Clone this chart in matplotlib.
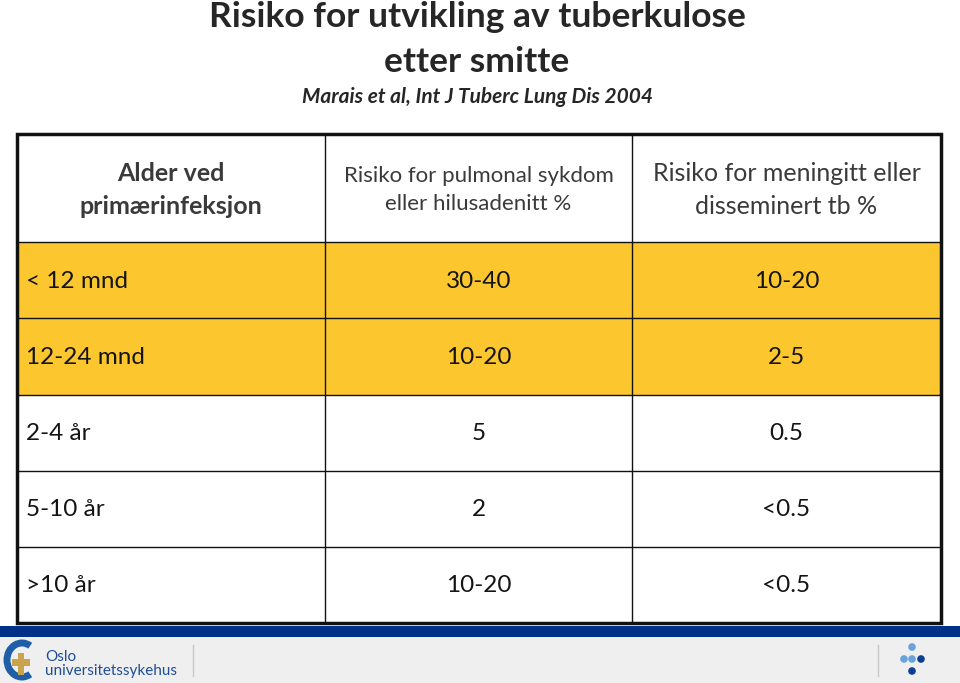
import matplotlib
matplotlib.use("Agg")
import matplotlib.pyplot as plt
from matplotlib.patches import Rectangle, Circle, Arc

FONT = ["Lato", "DejaVu Sans"]

title_lines = ["Risiko for utvikling av tuberkulose", "etter smitte"]
subtitle = "Marais et al, Int J Tuberc Lung Dis 2004"
headers = ["Alder ved\nprimærinfeksjon",
           "Risiko for pulmonal sykdom\neller hilusadenitt %",
           "Risiko for meningitt eller\ndisseminert tb %"]
ages = ["< 12 mnd", "12-24 mnd", "2-4 år", "5-10 år", ">10 år"]
pulmonal = ["30-40", "10-20", "5", "2", "10-20"]
meningitt = ["10-20", "2-5", "0.5", "<0.5", "<0.5"]
highlight = [True, True, False, False, False]

W, H = 960, 683
fig = plt.figure(figsize=(9.6, 6.83), dpi=100)
ax = fig.add_axes([0, 0, 1, 1])
ax.set_xlim(0, W)
ax.set_ylim(H, 0)
ax.axis("off")

# Title
ax.text(477, 17, title_lines[0], ha="center", va="center", fontsize=25.5,
        fontweight="bold", color="#262626", family=FONT)
ax.text(477, 62, title_lines[1], ha="center", va="center", fontsize=25.5,
        fontweight="bold", color="#262626", family=FONT)
ax.text(478, 97, subtitle, ha="center", va="center", fontsize=15,
        fontweight="bold", style="italic", color="#262626", family=FONT)

# Table geometry
col_x = [17, 325, 632, 941]
row_y = [134, 242, 318, 395, 471, 547, 623]
yellow = "#FCC62F"
body = "#141414"
head = "#3a3a3a"

for i in range(len(ages)):
    y0, y1 = row_y[i + 1], row_y[i + 2]
    if highlight[i]:
        ax.add_patch(Rectangle((col_x[0], y0), col_x[-1] - col_x[0], y1 - y0,
                               facecolor=yellow, edgecolor="none", zorder=1))
    yc = (y0 + y1) / 2 + 1
    ax.text(col_x[0] + 9, yc, ages[i], ha="left", va="center", fontsize=17.5,
            color=body, family=FONT, zorder=3)
    ax.text((col_x[1] + col_x[2]) / 2, yc, pulmonal[i], ha="center", va="center",
            fontsize=17.5, color=body, family=FONT, zorder=3)
    ax.text((col_x[2] + col_x[3]) / 2, yc, meningitt[i], ha="center", va="center",
            fontsize=17.5, color=body, family=FONT, zorder=3)

# Header
hy = (row_y[0] + row_y[1]) / 2 + 2
ax.text((col_x[0] + col_x[1]) / 2, hy, headers[0], ha="center", va="center",
        fontsize=18, fontweight="bold", color=head, family=FONT,
        linespacing=1.5, zorder=3)
ax.text((col_x[1] + col_x[2]) / 2, hy, headers[1], ha="center", va="center",
        fontsize=16, color=head, family=FONT, linespacing=1.55, zorder=3)
ax.text((col_x[2] + col_x[3]) / 2, hy, headers[2], ha="center", va="center",
        fontsize=18, color=head, family=FONT, linespacing=1.5, zorder=3)

# Grid lines
for y in row_y[1:-1]:
    ax.plot([col_x[0], col_x[-1]], [y, y], color="#111111", lw=1.0, zorder=2)
for x in col_x[1:-1]:
    ax.plot([x, x], [row_y[0], row_y[-1]], color="#111111", lw=1.0, zorder=2)
ax.add_patch(Rectangle((col_x[0], row_y[0]), col_x[-1] - col_x[0],
                       row_y[-1] - row_y[0], facecolor="none",
                       edgecolor="#111111", lw=2.5, zorder=4))

# Footer
ax.add_patch(Rectangle((0, 626), W, 11, facecolor="#003087", edgecolor="none"))
ax.add_patch(Rectangle((0, 637), W, H - 637, facecolor="#EFEFEF", edgecolor="none"))
ax.plot([193, 193], [645, 676], color="#c8c8c8", lw=1)
ax.plot([878, 878], [645, 676], color="#c8c8c8", lw=1)

# Logo
ax.add_patch(Arc((22, 660), 30, 34, theta1=60, theta2=300, color="#1f5fa8", lw=5))
ax.add_patch(Rectangle((12, 659), 18, 7, facecolor="#c9a44a", edgecolor="none"))
ax.add_patch(Rectangle((18, 653), 6, 22, facecolor="#c9a44a", edgecolor="none"))
ax.text(45, 657, "Oslo", ha="left", va="center", fontsize=11, color="#1f4e96",
        family=FONT)
ax.text(45, 671, "universitetssykehus", ha="left", va="center", fontsize=11,
        color="#1f4e96", family=FONT)
for (cx, cy, c) in [(912, 647, "#6aa3dc"), (904, 659, "#6aa3dc"),
                    (912, 659, "#6aa3dc"), (921, 659, "#0b3d91"),
                    (912, 671, "#0b3d91")]:
    ax.add_patch(Circle((cx, cy), 3.8, facecolor=c, edgecolor="none"))

fig.savefig("out.png", dpi=100, facecolor="white")
